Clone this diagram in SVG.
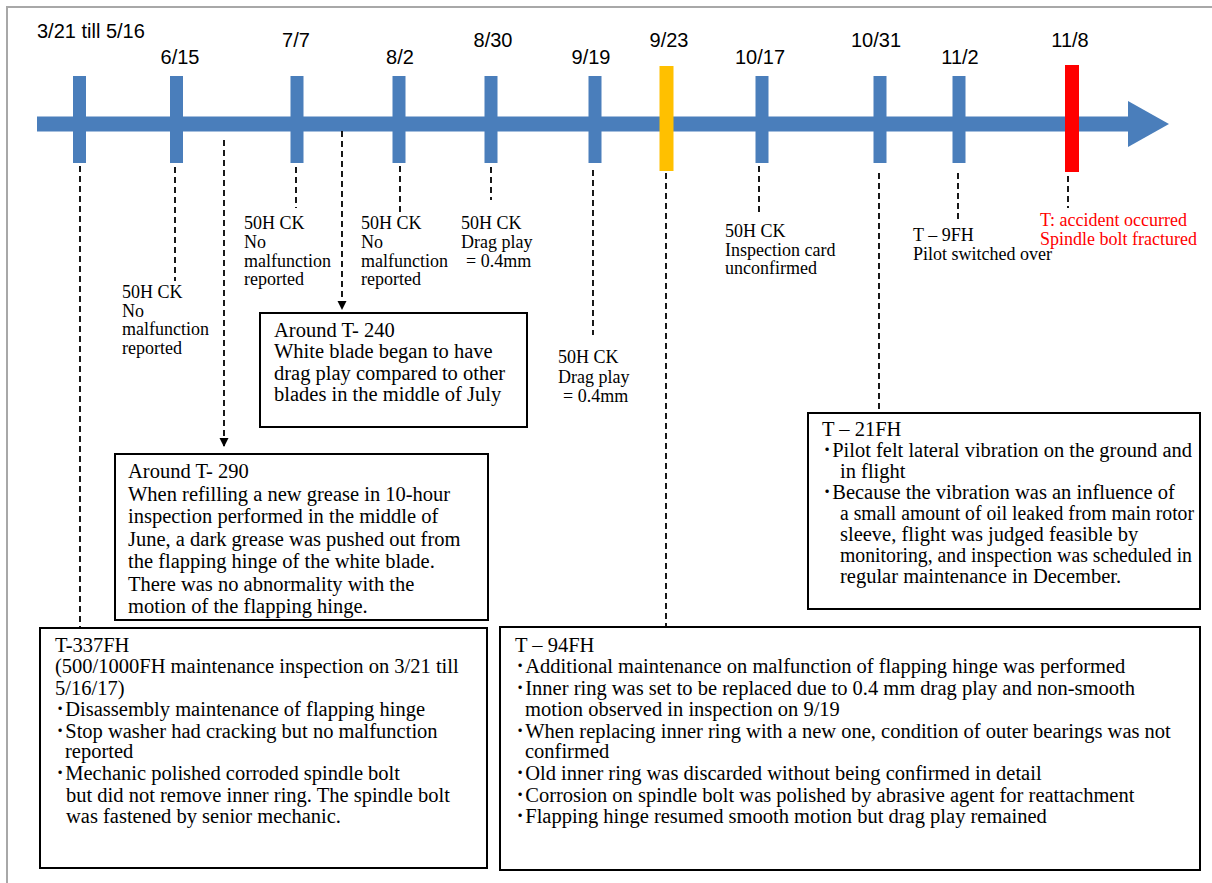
<svg xmlns="http://www.w3.org/2000/svg" width="1212" height="883" viewBox="0 0 1212 883">
<style>
.date{font-family:"Liberation Sans",Arial,sans-serif;font-size:20px;fill:#000;text-anchor:middle}
.lbl{font-family:"Liberation Serif","Noto Sans CJK JP",serif;font-size:18px;fill:#000}
.red{fill:#FF0000}
.bx{fill:#fff;stroke:#000;stroke-width:2}
.bt{font-family:"Liberation Serif","Noto Sans CJK JP",serif;font-size:20.5px;fill:#000}
.dash{stroke:#000;stroke-width:1.8;stroke-dasharray:6 4;fill:none}
.tick{fill:#4A7EBB}
</style>
<defs>
<marker id="ah" markerUnits="userSpaceOnUse" markerWidth="10" markerHeight="10" refX="9" refY="5" orient="auto">
<path d="M0,0.5 L9,5 L0,9.5 z" fill="#000" stroke="none"/>
</marker>
</defs>
<rect width="1212" height="883" fill="#fff"/>
<path d="M7,883 L7,7 L1212,7" fill="none" stroke="#A8A8A8" stroke-width="2"/>

<g id="timeline">
<rect class="tick" x="37" y="116.5" width="1093" height="15"/>
<polygon class="tick" points="1128,101 1169,124 1128,147"/>
<rect class="tick" x="73" y="76" width="13" height="87"/>
<rect class="tick" x="170" y="76" width="13" height="87"/>
<rect class="tick" x="290.5" y="76" width="13" height="87"/>
<rect class="tick" x="392.5" y="76" width="13" height="87"/>
<rect class="tick" x="484.5" y="76" width="13" height="87"/>
<rect class="tick" x="588.5" y="76" width="13" height="87"/>
<rect class="tick" x="755.5" y="76" width="13" height="87"/>
<rect class="tick" x="873.5" y="76" width="13" height="87"/>
<rect class="tick" x="952.5" y="76" width="13" height="87"/>
<rect x="659.5" y="66" width="14" height="105" fill="#FFC000"/>
<rect x="1065" y="65" width="14" height="107" fill="#FF0000"/>
<text class="date" x="37" y="38" style="text-anchor:start">3/21 till 5/16</text>
<text class="date" x="180" y="64">6/15</text>
<text class="date" x="296" y="47">7/7</text>
<text class="date" x="400" y="64">8/2</text>
<text class="date" x="493" y="47">8/30</text>
<text class="date" x="591" y="64">9/19</text>
<text class="date" x="669" y="47">9/23</text>
<text class="date" x="760" y="64">10/17</text>
<text class="date" x="876" y="47">10/31</text>
<text class="date" x="960" y="64">11/2</text>
<text class="date" x="1070" y="47">11/8</text>
</g>

<g id="connectors">
<line class="dash" x1="80" y1="166" x2="80" y2="627"/>
<line class="dash" x1="175" y1="167" x2="175" y2="281"/>
<line class="dash" x1="296" y1="167" x2="296" y2="208"/>
<line class="dash" x1="400" y1="166" x2="400" y2="215"/>
<line class="dash" x1="491" y1="167" x2="491" y2="200"/>
<line class="dash" x1="593" y1="170" x2="593" y2="335"/>
<line class="dash" x1="666" y1="173" x2="666" y2="627"/>
<line class="dash" x1="759" y1="166" x2="759" y2="215"/>
<line class="dash" x1="879" y1="173" x2="879" y2="412"/>
<line class="dash" x1="958" y1="173" x2="958" y2="220"/>
<line class="dash" x1="1068" y1="176" x2="1068" y2="208"/>
<line class="dash" x1="224" y1="140" x2="224" y2="447" marker-end="url(#ah)"/>
<line class="dash" x1="342" y1="131" x2="342" y2="310" marker-end="url(#ah)"/>
</g>

<g id="lbl-0615">
<text class="lbl" x="122" y="298">50H CK</text>
<text class="lbl" x="122" y="317">No</text>
<text class="lbl" x="122" y="335">malfunction</text>
<text class="lbl" x="122" y="354">reported</text>
</g>
<g id="lbl-0707">
<text class="lbl" x="244" y="229">50H CK</text>
<text class="lbl" x="244" y="248">No</text>
<text class="lbl" x="244" y="267">malfunction</text>
<text class="lbl" x="244" y="285">reported</text>
</g>
<g id="lbl-0802">
<text class="lbl" x="361" y="229">50H CK</text>
<text class="lbl" x="361" y="248">No</text>
<text class="lbl" x="361" y="267">malfunction</text>
<text class="lbl" x="361" y="285">reported</text>
</g>
<g id="lbl-0830">
<text class="lbl" x="461" y="229">50H CK</text>
<text class="lbl" x="461" y="248">Drag play</text>
<text class="lbl" x="466" y="267">= 0.4mm</text>
</g>
<g id="lbl-0919">
<text class="lbl" x="558" y="363">50H CK</text>
<text class="lbl" x="558" y="383">Drag play</text>
<text class="lbl" x="563" y="402">= 0.4mm</text>
</g>
<g id="lbl-1017">
<text class="lbl" x="725" y="237">50H CK</text>
<text class="lbl" x="725" y="256">Inspection card</text>
<text class="lbl" x="725" y="274">unconfirmed</text>
</g>
<g id="lbl-1102">
<text class="lbl" x="913" y="241">T – 9FH</text>
<text class="lbl" x="913" y="260">Pilot switched over</text>
</g>
<g id="lbl-1108">
<text class="lbl red" x="1040" y="226">T: accident occurred</text>
<text class="lbl red" x="1040" y="245">Spindle bolt fractured</text>
</g>

<g id="box-t240">
<rect class="bx" x="260" y="313" width="267" height="114"/>
<text class="bt" x="274" y="337">Around T- 240</text>
<text class="bt" x="274" y="358">White blade began to have</text>
<text class="bt" x="274" y="380">drag play compared to other</text>
<text class="bt" x="274" y="401">blades in the middle of July</text>
</g>

<g id="box-t290">
<rect class="bx" x="115" y="454" width="373" height="166"/>
<text class="bt" x="128" y="478">Around T- 290</text>
<text class="bt" x="128" y="501">When refilling a new grease  in 10-hour</text>
<text class="bt" x="128" y="523">inspection performed in the middle of</text>
<text class="bt" x="128" y="546">June, a dark grease was pushed out from</text>
<text class="bt" x="128" y="568">the flapping hinge of the white blade.</text>
<text class="bt" x="128" y="591">There was no abnormality with the</text>
<text class="bt" x="128" y="613">motion of the flapping hinge.</text>
</g>

<g id="box-t21">
<rect class="bx" x="808" y="413" width="392" height="196"/>
<text class="bt" x="822" y="436">T – 21FH</text>
<text class="bt" x="822" y="457" textLength="370" lengthAdjust="spacingAndGlyphs">･Pilot felt lateral vibration on the ground and</text>
<text class="bt" x="840" y="478">in flight</text>
<text class="bt" x="822" y="499">･Because the vibration was an influence of</text>
<text class="bt" x="840" y="520" textLength="354" lengthAdjust="spacingAndGlyphs">a small amount of oil leaked from main rotor</text>
<text class="bt" x="840" y="541">sleeve, flight was judged feasible by</text>
<text class="bt" x="840" y="562" textLength="352" lengthAdjust="spacingAndGlyphs">monitoring, and inspection was scheduled in</text>
<text class="bt" x="840" y="583">regular maintenance in December.</text>
</g>

<g id="box-t337">
<rect class="bx" x="40" y="628" width="447" height="240"/>
<text class="bt" x="55" y="652">T-337FH</text>
<text class="bt" x="55" y="673">(500/1000FH maintenance inspection on 3/21 till</text>
<text class="bt" x="55" y="695">5/16/17)</text>
<text class="bt" x="55" y="716">･Disassembly maintenance of flapping hinge</text>
<text class="bt" x="55" y="738">･Stop washer had cracking but no malfunction</text>
<text class="bt" x="65" y="758">reported</text>
<text class="bt" x="55" y="780">･Mechanic polished corroded spindle bolt</text>
<text class="bt" x="66" y="802">but did not  remove inner ring. The spindle bolt</text>
<text class="bt" x="66" y="823">was fastened by senior mechanic.</text>
</g>

<g id="box-t94">
<rect class="bx" x="500" y="627" width="700" height="243"/>
<text class="bt" x="515" y="652">T – 94FH</text>
<text class="bt" x="515" y="673">･Additional maintenance on malfunction of flapping hinge was performed</text>
<text class="bt" x="515" y="695">･Inner ring was set to be replaced due to 0.4 mm drag play and non-smooth</text>
<text class="bt" x="525" y="716">motion observed in inspection on 9/19</text>
<text class="bt" x="515" y="738">･When replacing inner ring with a new one, condition of outer bearings was not</text>
<text class="bt" x="525" y="758">confirmed</text>
<text class="bt" x="515" y="780">･Old inner ring was discarded without being confirmed in detail</text>
<text class="bt" x="515" y="802">･Corrosion on spindle bolt was polished by abrasive agent for reattachment</text>
<text class="bt" x="515" y="823">･Flapping hinge resumed smooth motion but drag play remained</text>
</g>
</svg>
